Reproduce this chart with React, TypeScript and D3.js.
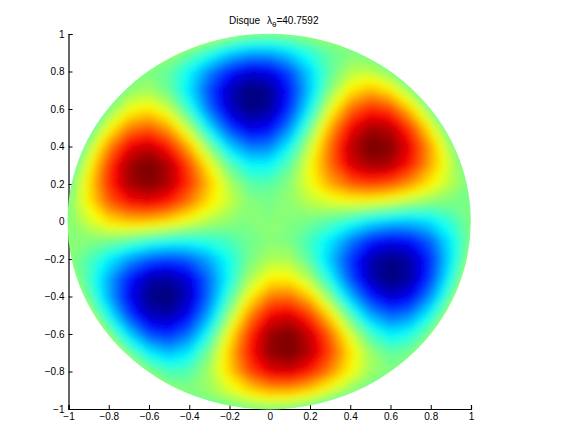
import React, { useRef, useEffect } from 'react';
import * as d3 from 'd3';

const W = 576;
const H = 432;

// tick labels of both axes
const tickValues = [-1, -0.8, -0.6, -0.4, -0.2, 0, 0.2, 0.4, 0.6, 0.8, 1];

// grid nodes, in x and in y (top row first)
const gridX = [-1, -0.9, -0.8, -0.7, -0.6, -0.5, -0.4, -0.3, -0.2, -0.1, 0, 0.1, 0.2, 0.3, 0.4, 0.5, 0.6, 0.7, 0.8, 0.9, 1];
const gridY = [1, 0.9, 0.8, 0.7, 0.6, 0.5, 0.4, 0.3, 0.2, 0.1, 0, -0.1, -0.2, -0.3, -0.4, -0.5, -0.6, -0.7, -0.8, -0.9, -1];

// field, in percent of the peak, one row per gridY
const field = [
  [-30, -20, 0, 10, 18, 22, 21, 16, 8, 2, 0, 2, 5, 6, 2, -8, -23, -40, -50, -50, -50],
  [-30, -30, -16, -3, 5, 5, -4, -17, -32, -40, -40, -31, -17, -5, 0, -4, -17, -35, -54, -60, -60],
  [-40, -36, -19, -5, 0, -6, -24, -47, -67, -79, -76, -58, -32, -7, 9, 11, 0, -20, -43, -63, -60],
  [-53, -35, -14, 2, 6, -5, -29, -59, -85, -97, -92, -68, -34, 1, 27, 37, 26, 4, -24, -50, -64],
  [-52, -27, 0, 20, 27, 13, -16, -52, -81, -96, -90, -63, -24, 19, 51, 65, 59, 32, 0, -31, -54],
  [-42, -11, 21, 47, 54, 40, 9, -29, -61, -78, -73, -46, -5, 39, 72, 88, 84, 60, 23, -11, -37],
  [-30, 6, 45, 74, 82, 67, 37, 0, -33, -50, -48, -24, 12, 51, 83, 99, 94, 73, 40, 5, -21],
  [-17, 20, 61, 89, 98, 86, 58, 23, -7, -24, -24, -7, 22, 51, 78, 89, 86, 67, 40, 12, -9],
  [-7, 28, 64, 88, 95, 86, 62, 35, 9, -7, -8, 2, 21, 40, 54, 60, 55, 43, 26, 10, -2],
  [-1, 26, 53, 69, 74, 66, 48, 28, 13, 1, -1, 3, 11, 16, 19, 18, 13, 6, 1, -1, 0],
  [0, 15, 29, 35, 34, 28, 18, 9, 3, 0, 0, 0, -3, -9, -18, -28, -34, -35, -29, -15, 0],
  [0, 1, -1, -6, -13, -18, -19, -16, -11, -3, 1, -1, -13, -28, -48, -66, -74, -69, -53, -26, 1],
  [2, -10, -26, -43, -55, -60, -54, -40, -21, -2, 8, 7, -9, -35, -62, -86, -95, -88, -64, -28, 7],
  [9, -12, -40, -67, -86, -89, -78, -51, -22, 7, 24, 24, 7, -23, -58, -86, -98, -89, -61, -20, 17],
  [21, -5, -40, -73, -94, -99, -83, -51, -12, 24, 48, 50, 33, 0, -37, -67, -82, -74, -45, -6, 30],
  [37, 11, -23, -60, -84, -88, -72, -39, 5, 46, 73, 78, 61, 29, -9, -40, -54, -47, -21, 11, 42],
  [54, 31, 0, -32, -59, -65, -51, -19, 24, 63, 90, 96, 81, 52, 16, -13, -27, -20, 0, 27, 52],
  [64, 50, 24, -4, -26, -37, -27, -1, 34, 68, 92, 97, 85, 59, 29, 5, -6, -2, 14, 35, 53],
  [60, 63, 43, 20, 0, -11, -9, 7, 32, 58, 76, 79, 67, 47, 24, 6, 0, 5, 19, 36, 40],
  [60, 60, 54, 35, 17, 4, 0, 5, 17, 31, 40, 40, 32, 17, 4, -5, -5, 3, 16, 30, 30],
  [50, 50, 50, 40, 23, 8, -2, -6, -5, -2, 0, -2, -8, -16, -21, -22, -18, -10, 0, 20, 30],
];

// jet colormap stops
const jetStops = [0, 0.125, 0.375, 0.625, 0.875, 1];
const jetColors = ['#000080', '#0000ff', '#00ffff', '#ffff00', '#ff0000', '#800000'];

const LEVELS = 64;

const App = () => {
  const svgRef = useRef<SVGSVGElement>(null);

  useEffect(() => {
    if (!svgRef.current) return;
    const svg = d3.select(svgRef.current);
    svg.selectAll('*').remove();

    const x = d3.scaleLinear().domain([-1, 1]).range([68.5, 471]);
    const y = d3.scaleLinear().domain([-1, 1]).range([409, 34]);

    const jet = d3.scaleLinear<string>()
      .domain(jetStops.map(s => -95 + 190 * s))
      .range(jetColors)
      .clamp(true);

    // axes go first, the disc paints over them on the left
    const fmt = (d: number) => String(d).replace('-', '\u2212');
    const xAxis = d3.axisBottom(x).tickValues(tickValues).tickSize(-4).tickPadding(4).tickFormat(fmt as any);
    const yAxis = d3.axisLeft(y).tickValues(tickValues).tickSize(-4).tickPadding(4).tickFormat(fmt as any);

    svg.append('g').attr('transform', `translate(0,${y(-1)})`).call(xAxis);
    svg.append('g').attr('transform', `translate(${x(-1)},0)`).call(yAxis);
    svg.selectAll('.domain').attr('stroke', '#000').attr('stroke-width', 1.2);
    svg.selectAll('.tick line').attr('stroke', '#000');
    svg.selectAll('.tick text')
      .attr('fill', '#000')
      .style('font-family', '"Liberation Sans", Arial, sans-serif')
      .style('font-size', '10px');

    const defs = svg.append('defs');
    defs.append('clipPath').attr('id', 'disc')
      .append('ellipse')
      .attr('cx', x(0) - 0.6)
      .attr('cy', y(0))
      .attr('rx', x(1.002) - x(0))
      .attr('ry', y(0) - y(1.002));
    // softens the facets of the coarse value grid
    defs.append('filter').attr('id', 'soft')
      .attr('filterUnits', 'userSpaceOnUse')
      .attr('x', 0).attr('y', 0).attr('width', W).attr('height', H)
      .append('feGaussianBlur')
      .attr('stdDeviation', 4);

    const thresholds = d3.range(LEVELS).map(i => -100 + (200 * i) / LEVELS);
    const contours = d3.contours()
      .size([gridX.length, gridY.length])
      .thresholds(thresholds)(field.flat());

    const stepX = gridX[1] - gridX[0];
    const stepY = gridY[1] - gridY[0];
    const project = d3.geoTransform({
      point(px, py) {
        this.stream.point(x(gridX[0] + (px - 0.5) * stepX), y(gridY[0] + (py - 0.5) * stepY));
      },
    });
    const path = d3.geoPath(project);

    const disc = svg.append('g').attr('clip-path', 'url(#disc)')
      .append('g').attr('filter', 'url(#soft)');
    disc.selectAll('path')
      .data(contours)
      .join('path')
      .attr('d', d => path(d as any))
      .attr('fill', d => jet(d.value + 100 / LEVELS))
      .attr('stroke', d => jet(d.value + 100 / LEVELS))
      .attr('stroke-width', 0.5);

    const title = svg.append('text')
      .attr('x', 229)
      .attr('y', 24)
      .attr('fill', '#000')
      .style('font-family', '"Liberation Sans", Arial, sans-serif')
      .style('font-size', '10px');
    title.append('tspan').text('Disque');
    title.append('tspan').attr('x', 267).text('\u03bb');
    title.append('tspan').attr('dy', 3).style('font-size', '8px').text('\u03b8');
    title.append('tspan').attr('dy', -3).text('=40.7592');
  }, []);

  return (
    <svg
      ref={svgRef}
      width={W}
      height={H}
      style={{ position: 'absolute', left: 0, top: 0, background: '#fff' }}
    />
  );
};

export default App;
